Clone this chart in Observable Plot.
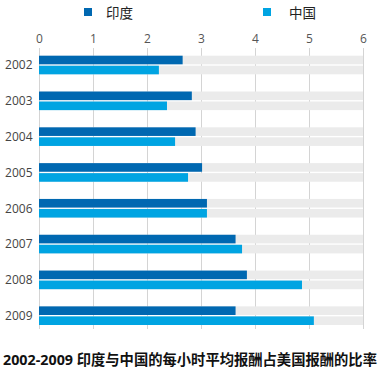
<!DOCTYPE html>
<html>
<head>
<meta charset="utf-8">
<script src="https://cdn.jsdelivr.net/npm/d3@7"></script>
<script src="https://cdn.jsdelivr.net/npm/@observablehq/plot@0.6"></script>
<style>
  body { margin: 0; background: #fff; font-family: "Open Sans", "Noto Sans CJK SC", sans-serif; }
  #wrap { width: 389px; height: 368px; position: relative; overflow: hidden; }
  #legend { position: relative; height: 26px; }
  #chart { height: 310px; }
  #chart svg { display: block; }
  .sw { position: absolute; top: 8px; width: 8px; height: 8px; }
  .lt { position: absolute; top: 2px; font-size: 13.5px; line-height: 20px; color: #222; font-family: "Noto Sans CJK SC", sans-serif; }
  #title { position: absolute; left: 3px; top: 350px; font-size: 14.3px; line-height: 20px; font-weight: bold; color: #111; white-space: nowrap; font-family: "Open Sans", "Noto Sans CJK SC", sans-serif; }
</style>
</head>
<body>
<div id="wrap">
  <div id="legend"></div>
  <div id="chart"></div>
  <div id="title"></div>
</div>
<script>
const years = ["2002", "2003", "2004", "2005", "2006", "2007", "2008", "2009"];
const india = [2.66, 2.83, 2.90, 3.02, 3.11, 3.64, 3.85, 3.64];
const china = [2.22, 2.37, 2.52, 2.76, 3.11, 3.76, 4.87, 5.09];
const seriesNames = ["印度", "中国"];
const seriesColors = ["#0068b1", "#00a4e2"];
const xTicks = [0, 1, 2, 3, 4, 5, 6];
const xMax = 6;
const titleText = "2002-2009 印度与中国的每小时平均报酬占美国报酬的比率";

const rows = years.map((y, i) => ({year: y, india: india[i], china: china[i], max: xMax}));

// legend
const legend = document.getElementById("legend");
const legendPos = [{sw: 84, tx: 106}, {sw: 263, tx: 289}];
seriesNames.forEach((name, i) => {
  const s = document.createElement("div");
  s.className = "sw";
  s.style.left = legendPos[i].sw + "px";
  s.style.background = seriesColors[i];
  legend.appendChild(s);
  const t = document.createElement("div");
  t.className = "lt";
  t.style.left = legendPos[i].tx + "px";
  t.textContent = name;
  legend.appendChild(t);
});
document.getElementById("title").textContent = titleText;

const chart = Plot.plot({
  width: 389,
  height: 310,
  marginLeft: 39,
  marginRight: 26,
  marginTop: 22,
  marginBottom: 7,
  style: {fontFamily: "'Open Sans', sans-serif", fontSize: "12px", color: "#555", background: "#fff"},
  x: {domain: [0, xMax], ticks: xTicks, axis: null},
  y: {domain: years, range: [29.7, 299], paddingInner: 0.48, paddingOuter: 0, round: false, axis: null},
  marks: [
    Plot.gridX(xTicks, {stroke: "#d4d4d4", strokeOpacity: 1, strokeWidth: 1}),
    Plot.barX(rows, {x1: 0, x2: "max", y: "year", fill: "#ebebeb", insetBottom: 10}),
    Plot.barX(rows, {x1: 0, x2: "max", y: "year", fill: "#ebebeb", insetTop: 10}),
    Plot.barX(rows, {x1: 0, x2: "india", y: "year", fill: seriesColors[0], insetBottom: 10}),
    Plot.barX(rows, {x1: 0, x2: "china", y: "year", fill: seriesColors[1], insetTop: 10}),
    Plot.axisX(xTicks, {anchor: "top", tickSize: 0, tickPadding: 6, fill: "#555", fontSize: 12, label: null}),
    Plot.axisY(years, {anchor: "left", tickSize: 0, tickPadding: 7, fill: "#444", fontSize: 12, label: null})
  ]
});
document.getElementById("chart").appendChild(chart);
</script>
</body>
</html>
